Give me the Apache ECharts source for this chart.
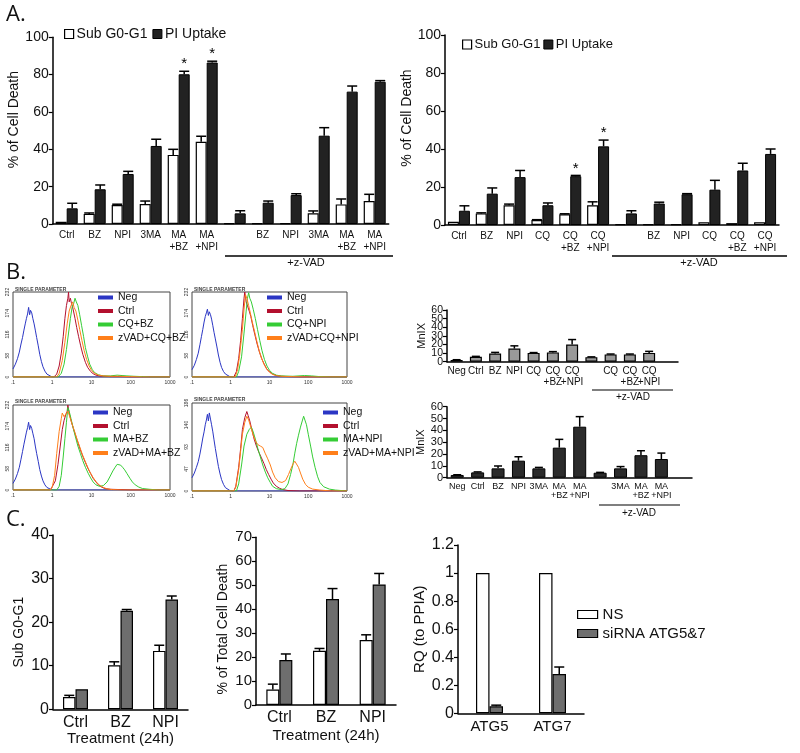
<!DOCTYPE html>
<html><head><meta charset="utf-8">
<script src="https://cdn.jsdelivr.net/npm/echarts@6/dist/echarts.min.js"></script>
<style>html,body{margin:0;padding:0;background:#fff}#main{width:800px;height:753px}</style>
</head><body><div id="main"></div>
<script>
const FF = '"Liberation Sans", Arial, sans-serif';

// ---------- Panel A (left) ----------
const aLeftCats = ['Ctrl','BZ','NPI','3MA','MA\n+BZ','MA\n+NPI','','BZ','NPI','3MA','MA\n+BZ','MA\n+NPI'];
const aLeftSub = [1.2, 5.4, 10.2, 10.7, 37, 44, 0.4, 0.4, 0.5, 5.7, 10.5, 12.3];
const aLeftSubErr = [1.2, 5.9, 10.6, 12.3, 40, 47, 0.4, 0.4, 0.5, 7, 13.4, 15.9];
const aLeftPI = [8.4, 18.6, 26.8, 41.8, 80.2, 86.5, 5.7, 11.4, 15.5, 47.3, 70.9, 76.2];
const aLeftPIErr = [11.1, 20.9, 28.2, 45.4, 81.8, 87.2, 7.1, 12.3, 16.2, 51.6, 73.9, 76.8];
const aLeftStar = [0,0,0,0,1,1,0,0,0,0,0,0];

// ---------- Panel A (right) ----------
const aRightCats = ['Ctrl','BZ','NPI','CQ','CQ\n+BZ','CQ\n+NPI','','BZ','NPI','CQ','CQ\n+BZ','CQ\n+NPI'];
const aRightSub = [1.7, 6.1, 10.4, 2.6, 5.6, 10.4, 0.4, 0.4, 0.5, 1.5, 1, 1.5];
const aRightSubErr = [1.7, 6.4, 11, 2.8, 5.9, 12.2, 0.4, 0.4, 0.5, 1.5, 1, 1.5];
const aRightPI = [7.5, 16.5, 25.2, 10.4, 25.7, 41.4, 6.1, 11.3, 16.2, 18.6, 28.7, 37.4];
const aRightPIErr = [10.1, 19.5, 28.7, 11.6, 26.1, 44.7, 7.5, 12, 16.5, 23.5, 32.5, 40];
const aRightStar = [0,0,0,0,1,1,0,0,0,0,0,0];

// ---------- Panel B flow histograms (x: fluorescence, y: count) ----------
const flowXTicks = ['.1','1','10','100','1000'];
const flowLegend1 = ['Neg','Ctrl','CQ+BZ','zVAD+CQ+BZ'];
const flowLegend2 = ['Neg','Ctrl','CQ+NPI','zVAD+CQ+NPI'];
const flowLegend3 = ['Neg','Ctrl','MA+BZ','zVAD+MA+BZ'];
const flowLegend4 = ['Neg','Ctrl','MA+NPI','zVAD+MA+NPI'];
const flowMax = [232, 232, 232, 186];

const neg1 = [[0.1,22],[0.115,35],[0.13,50],[0.145,68],[0.16,90],[0.175,108],[0.19,128],[0.205,145],[0.22,160],[0.235,172],[0.25,190],[0.265,170],[0.28,182],[0.3,175],[0.32,160],[0.345,145],[0.37,128],[0.4,108],[0.44,85],[0.48,62],[0.53,42],[0.58,28],[0.65,16],[0.73,8],[0.82,4],[0.95,1],[1.1,0],[1000,0]];
const ctrl1 = [[0.1,0],[1.1,0],[1.3,8],[1.5,30],[1.7,65],[1.9,110],[2.1,160],[2.3,195],[2.5,215],[2.6,232],[2.7,205],[2.9,215],[3.1,200],[3.4,185],[3.8,160],[4.2,135],[4.7,110],[5.3,85],[6,62],[7,40],[8,26],[9.5,15],[11,9],[13,5],[16,3],[22,2],[30,1],[50,1],[100,0],[1000,0]];
const trt1 = [[0.1,0],[1.4,0],[1.7,10],[2,35],[2.3,75],[2.6,120],[2.9,160],[3.2,190],[3.5,200],[3.8,215],[4.1,205],[4.5,195],[5,170],[5.6,140],[6.3,110],[7,80],[8,55],[9,35],[10.5,20],[12,12],[15,6],[20,3],[30,3],[45,5],[60,4],[80,3],[120,2],[200,1],[300,0],[1000,0]];
const zvad1 = [[0.1,0],[1.3,0],[1.5,10],[1.8,45],[2.1,95],[2.4,145],[2.7,180],[3,195],[3.3,205],[3.6,190],[4,180],[4.5,155],[5,130],[5.7,100],[6.5,72],[7.5,48],[8.7,30],[10,18],[12,10],[15,5],[20,3],[30,2],[50,2],[100,1],[200,0],[1000,0]];

const neg2 = [[0.1,20],[0.115,32],[0.13,48],[0.145,65],[0.16,88],[0.175,110],[0.19,130],[0.205,150],[0.22,165],[0.235,175],[0.25,185],[0.265,168],[0.28,178],[0.3,170],[0.32,158],[0.345,140],[0.37,122],[0.4,104],[0.44,82],[0.48,60],[0.53,40],[0.58,26],[0.65,15],[0.73,8],[0.82,3],[0.95,1],[1.1,0],[1000,0]];
const ctrl2 = [[0.1,0],[1.2,0],[1.4,15],[1.6,50],[1.8,100],[2,160],[2.2,215],[2.3,232],[2.5,205],[2.7,200],[3,180],[3.3,165],[3.7,140],[4.2,115],[4.8,90],[5.5,68],[6.3,50],[7.3,35],[8.5,22],[10,14],[12,8],[15,4],[20,2],[30,1],[60,0],[1000,0]];
const trt2 = [[0.1,0],[1.4,0],[1.6,15],[1.9,55],[2.2,120],[2.5,180],[2.7,215],[2.9,230],[3.1,215],[3.4,205],[3.8,185],[4.3,160],[4.9,130],[5.6,100],[6.4,72],[7.4,48],[8.6,30],[10,18],[12,10],[15,5],[20,3],[40,2],[80,4],[120,3],[200,1],[400,0],[1000,0]];
const zvad2 = [[0.1,0],[1.3,0],[1.5,20],[1.7,60],[2,130],[2.2,185],[2.4,225],[2.6,215],[2.9,195],[3.2,175],[3.6,150],[4.1,125],[4.7,98],[5.4,72],[6.2,52],[7.2,35],[8.4,22],[10,13],[12,7],[15,4],[20,2],[40,1],[100,0],[1000,0]];

const neg3 = [[0.1,18],[0.115,30],[0.13,45],[0.145,62],[0.16,84],[0.175,105],[0.19,125],[0.205,142],[0.22,158],[0.235,170],[0.25,185],[0.265,165],[0.28,176],[0.3,168],[0.32,155],[0.345,140],[0.37,120],[0.4,100],[0.44,78],[0.48,56],[0.53,38],[0.58,25],[0.65,14],[0.73,7],[0.82,3],[0.95,1],[1.1,0],[1000,0]];
const ctrl3 = [[0.1,0],[0.9,0],[1,5],[1.2,25],[1.4,70],[1.6,120],[1.8,165],[2,190],[2.2,205],[2.4,215],[2.5,232],[2.7,210],[3,190],[3.4,170],[3.9,150],[4.5,130],[5.2,110],[6,92],[7,75],[8.2,58],[9.5,45],[11,32],[13,22],[15,14],[18,8],[22,4],[30,2],[60,1],[100,0],[1000,0]];
const trt3 = [[0.1,0],[1.3,0],[1.5,10],[1.7,40],[1.9,90],[2.1,140],[2.3,185],[2.5,225],[2.7,215],[3,195],[3.4,170],[3.9,145],[4.5,120],[5.2,100],[6,80],[7,62],[8.2,46],[9.5,33],[11,22],[13,14],[16,10],[20,12],[25,22],[30,38],[35,52],[40,62],[45,70],[50,75],[55,68],[62,62],[70,55],[80,45],[95,32],[110,22],[130,14],[160,8],[200,4],[300,2],[500,0],[1000,0]];
const zvad3 = [[0.1,0],[0.9,0],[1,8],[1.15,40],[1.3,100],[1.5,160],[1.7,195],[1.8,210],[2,200],[2.2,205],[2.5,215],[2.8,200],[3.2,180],[3.7,160],[4.3,138],[5,118],[5.8,98],[6.8,80],[8,62],[9.3,47],[11,34],[13,23],[16,13],[20,7],[25,3],[35,1],[60,0],[1000,0]];

const neg4 = [[0.1,28],[0.115,38],[0.13,50],[0.145,62],[0.16,78],[0.175,95],[0.19,112],[0.205,125],[0.22,140],[0.235,150],[0.25,162],[0.265,148],[0.28,165],[0.3,152],[0.32,140],[0.345,125],[0.37,108],[0.4,90],[0.44,70],[0.48,52],[0.53,36],[0.58,24],[0.65,14],[0.73,7],[0.82,3],[0.95,1],[1.1,0],[1000,0]];
const ctrl4 = [[0.1,0],[1.2,0],[1.35,10],[1.6,50],[1.8,90],[2,130],[2.3,155],[2.6,168],[2.8,160],[3.1,148],[3.5,130],[4,110],[4.6,95],[5.3,82],[6.2,70],[7.2,58],[8.3,45],[9.5,35],[11,25],[12.5,17],[15,10],[18,6],[22,3],[30,1],[60,0],[1000,0]];
const trt4 = [[0.1,0],[1.4,0],[1.6,15],[1.9,55],[2.2,95],[2.6,120],[3,130],[3.4,135],[3.8,125],[4.3,110],[5,90],[5.8,72],[6.7,55],[7.8,40],[9,28],[10.5,18],[12,10],[15,5],[20,3],[25,5],[30,15],[35,35],[40,55],[45,80],[50,100],[56,118],[63,135],[70,148],[76,158],[82,150],[90,140],[100,120],[115,95],[130,72],[150,50],[175,30],[200,18],[250,9],[350,4],[500,2],[1000,0]];
const zvad4 = [[0.1,0],[1.2,0],[1.35,8],[1.6,45],[1.8,85],[2,120],[2.3,145],[2.6,158],[2.9,150],[3.3,135],[3.8,118],[4.4,105],[5,98],[5.8,95],[6.7,92],[7.7,80],[9,68],[10.5,55],[12,40],[14,28],[17,20],[21,18],[26,22],[31,35],[36,48],[41,58],[45,63],[50,60],[56,50],[63,38],[72,25],[85,14],[100,8],[130,4],[200,2],[400,0],[1000,0]];

// ---------- Panel B MnIX bars ----------
const bCqCats = ['Neg','Ctrl','BZ','NPI','CQ','CQ\n+BZ','CQ\n+NPI','','CQ','CQ\n+BZ','CQ\n+NPI'];
const bCqVals = [2, 5.8, 9.4, 15.2, 10.2, 10.8, 19.9, 5.3, 8.5, 8.5, 10.2];
const bCqErr  = [2.3, 6.2, 10.8, 18.4, 10.6, 11.7, 25.7, 5.6, 8.9, 8.9, 12];
const bMaCats = ['Neg','Ctrl','BZ','NPI','3MA','MA\n+BZ','MA\n+NPI','','3MA','MA\n+BZ','MA\n+NPI'];
const bMaVals = [2.3, 4.5, 7.9, 14.4, 7.9, 25.4, 43.1, 4.2, 7.9, 19, 15.8];
const bMaErr  = [2.5, 4.9, 9.9, 17.7, 8.7, 32.4, 51.6, 4.5, 9.4, 22.8, 20.8];
const bTicks = [0, 10, 20, 30, 40, 50, 60];
const bTicksEven = [0, 20, 40, 60];
const bTicksOdd = [10, 30, 50];

// ---------- Panel C ----------
const cCats = ['Ctrl','BZ','NPI'];
const c1NS = [2.8, 10.1, 13.4];
const c1NSErr = [3.2, 10.9, 14.7];
const c1Si = [4.6, 22.6, 25.2];
const c1SiErr = [4.6, 22.9, 26];
const c2NS = [6.5, 22.6, 27.1];
const c2NSErr = [8.7, 23.6, 29.3];
const c2Si = [18.8, 44.2, 50.3];
const c2SiErr = [21.3, 48.6, 54.9];
const c3Cats = ['ATG5','ATG7'];
const c3NS = [1, 1];
const c3Si = [0.05, 0.28];
const c3SiErr = [0.058, 0.33];

// ---------- helpers ----------
function errSeries(gi, vals, errs, offset, capW, stars) {
  return {
    type: 'custom', xAxisIndex: gi, yAxisIndex: gi, z: 6, silent: true,
    data: vals.map((v, i) => [i, v, errs[i], stars ? stars[i] : 0]),
    renderItem(params, api) {
      const i = api.value(0), v = api.value(1), e = api.value(2), s = api.value(3);
      const p = api.coord([i, v]);
      const t = api.coord([i, e]);
      const x = p[0] + offset;
      const ch = [];
      if (e > v + 1e-9) {
        ch.push({type: 'line', shape: {x1: x, y1: p[1], x2: x, y2: t[1]}, style: {stroke: '#000', lineWidth: 1.5}});
        ch.push({type: 'line', shape: {x1: x - capW / 2, y1: t[1], x2: x + capW / 2, y2: t[1]}, style: {stroke: '#000', lineWidth: 1.5}});
      }
      if (s) ch.push({type: 'text', style: {text: '*', x: x, y: t[1] - 7, textAlign: 'center', textVerticalAlign: 'middle', fontSize: 15, fontFamily: FF, fill: '#000'}});
      return {type: 'group', children: ch};
    }
  };
}
function bar(name, gi, data, color, w, bw) {
  return {type: 'bar', name, xAxisIndex: gi, yAxisIndex: gi, data, barWidth: w, barGap: '0%',
    itemStyle: {color, borderColor: '#000', borderWidth: bw}, emphasis: {disabled: true}, z: 3};
}
function flow(name, gi, pts, color) {
  return {type: 'line', name, xAxisIndex: gi, yAxisIndex: gi, data: pts, showSymbol: false, symbol: 'none',
    lineStyle: {color, width: 1}, itemStyle: {color}, emphasis: {disabled: true}, z: 3};
}
function catAxis(gi, cats, fs, lh, margin) {
  return {type: 'category', gridIndex: gi, data: cats,
    axisLine: {show: true, lineStyle: {color: '#000', width: 1.5}}, axisTick: {show: false},
    axisLabel: {interval: 0, fontSize: fs, lineHeight: lh, margin, color: '#111', fontFamily: FF}};
}
function valAxis(gi, max, interval, fs, name, nfs, gap, pad, lh) {
  return {type: 'value', gridIndex: gi, min: 0, max, interval,
    axisLine: {show: true, lineStyle: {color: '#000', width: 1.5}},
    axisTick: {show: true, length: 4, lineStyle: {color: '#000', width: 1.2}},
    splitLine: {show: false},
    axisLabel: {fontSize: fs, lineHeight: lh || fs, color: '#111', fontFamily: FF, margin: 4,
      showMinLabel: true, showMaxLabel: true, hideOverlap: false,
      formatter: v => String(Math.round(v * 10) / 10)},
    name, nameLocation: 'middle', nameGap: gap, nameRotate: 90,
    nameTextStyle: {fontSize: nfs, color: '#111', fontFamily: FF, padding: pad || [0, 0, 0, 0]}};
}
function flowX(gi) {
  return {type: 'log', gridIndex: gi, logBase: 10, min: 0.1, max: 1000,
    axisLine: {show: false}, axisTick: {show: false}, splitLine: {show: false},
    axisLabel: {fontSize: 5, margin: 3, color: '#333', fontFamily: FF, showMinLabel: true, showMaxLabel: true,
      formatter: v => v < 0.5 ? flowXTicks[0] : flowXTicks[Math.round(Math.log10(v)) + 1]}};
}
function flowY(gi, max) {
  return {type: 'value', gridIndex: gi, min: 0, max, interval: max / 4,
    axisLine: {show: false}, axisTick: {show: false}, splitLine: {show: false},
    axisLabel: {fontSize: 5, rotate: 90, margin: 3, color: '#333', fontFamily: FF, showMinLabel: true, showMaxLabel: true,
      formatter: v => String(Math.round(v))}};
}
function flowLegend(names, left, top) {
  return {data: names, orient: 'vertical', left, top, padding: 0, itemGap: 2.5, itemWidth: 15, itemHeight: 4,
    icon: 'rect', selectedMode: false, textStyle: {fontSize: 10.5, lineHeight: 11, color: '#111', fontFamily: FF}};
}
const fBox = {show: true, borderColor: '#444', borderWidth: 1, backgroundColor: '#fff'};
const C_BLUE = '#2b36c4', C_RED = '#b3102e', C_GREEN = '#35cc35', C_ORANGE = '#ff7f1a';
const subLeg = {name: 'Sub G0-G1', itemStyle: {color: '#fff', borderColor: '#000', borderWidth: 1.2}};
const piLeg = {name: 'PI Uptake', itemStyle: {color: '#222', borderColor: '#000', borderWidth: 1}};

// B1 y-axis: main axis shows even labels and all ticks; a twin axis shows odd labels
const b1Axis = valAxis(6, 60, 10, 10.5, 'MnIX', 11, 13, null, 9);
b1Axis.axisLabel.customValues = bTicksEven;
b1Axis.axisTick.customValues = bTicks;
const b1AxisOdd = {type: 'value', gridIndex: 6, min: 0, max: 60, position: 'left',
  axisLine: {show: false}, axisTick: {show: false}, splitLine: {show: false},
  axisLabel: {customValues: bTicksOdd, fontSize: 10.5, lineHeight: 9, color: '#111', fontFamily: FF, margin: 4,
    showMinLabel: true, showMaxLabel: true}};

const option = {
  animation: false,
  backgroundColor: '#fff',
  textStyle: {fontFamily: FF},
  grid: [
    {left: 52.7, top: 37.3, width: 336, height: 186.7},
    {left: 445, top: 35, width: 334, height: 190},
    Object.assign({left: 13, top: 292, width: 157, height: 85}, fBox),
    Object.assign({left: 192, top: 292, width: 155, height: 85}, fBox),
    Object.assign({left: 13, top: 405, width: 157, height: 85}, fBox),
    Object.assign({left: 192, top: 403, width: 155, height: 88}, fBox),
    {left: 447, top: 310, width: 231, height: 51.7},
    {left: 447, top: 406.7, width: 245, height: 71},
    {left: 53, top: 535, width: 135, height: 174.3},
    {left: 256, top: 537.3, width: 140, height: 167.7},
    {left: 458, top: 545, width: 126, height: 168.3}
  ],
  xAxis: [
    catAxis(0, aLeftCats, 10, 12, 5),
    catAxis(1, aRightCats, 10, 12, 5),
    flowX(2), flowX(3), flowX(4), flowX(5),
    catAxis(6, bCqCats.concat(['']), 10, 11, 4),
    catAxis(7, bMaCats.concat(['']), 9, 9, 4),
    Object.assign(catAxis(8, cCats, 16, 16, 5), {name: 'Treatment (24h)', nameLocation: 'middle', nameGap: 21, nameTextStyle: {fontSize: 15, color: '#111', fontFamily: FF}}),
    Object.assign(catAxis(9, cCats, 16, 16, 5), {name: 'Treatment (24h)', nameLocation: 'middle', nameGap: 23, nameTextStyle: {fontSize: 15, color: '#111', fontFamily: FF}}),
    catAxis(10, c3Cats, 15, 15, 6)
  ],
  yAxis: [
    valAxis(0, 100, 20, 14, '% of Cell Death', 14, 30, [0, 0, 0, 22]),
    valAxis(1, 100, 20, 14, '% of Cell Death', 14, 28, [0, 0, 0, 24]),
    flowY(2, flowMax[0]), flowY(3, flowMax[1]), flowY(4, flowMax[2]), flowY(5, flowMax[3]),
    b1Axis,
    valAxis(7, 60, 10, 11, 'MnIX', 11, 13, null, 10),
    valAxis(8, 40, 10, 16, 'Sub G0-G1', 14, 27, [0, 20, 0, 0]),
    valAxis(9, 70, 10, 15, '% of Total Cell Death', 14, 26, [0, 16, 0, 0]),
    valAxis(10, 1.2, 0.2, 16, 'RQ (to PPIA)', 15, 30, null),
    b1AxisOdd
  ],
  legend: [
    {data: [subLeg, piLeg], left: 64, top: 27, padding: 0, itemGap: 5, itemWidth: 9, itemHeight: 9, icon: 'rect', selectedMode: false,
      textStyle: {fontSize: 14, color: '#111', fontFamily: FF, padding: [0, 0, 0, -2]}},
    {data: [subLeg, piLeg], left: 462, top: 38, padding: 0, itemGap: 3, itemWidth: 9, itemHeight: 9, icon: 'rect', selectedMode: false,
      textStyle: {fontSize: 13, color: '#111', fontFamily: FF, padding: [0, 0, 0, -2]}},
    flowLegend(flowLegend1, 98, 292),
    flowLegend(flowLegend2, 267, 292),
    flowLegend(flowLegend3, 93, 407),
    flowLegend(flowLegend4, 323, 407),
    {data: [{name: 'NS', itemStyle: {color: '#fff', borderColor: '#000', borderWidth: 1.2}},
            {name: 'siRNA ATG5&7', itemStyle: {color: '#6e6e6e', borderColor: '#000', borderWidth: 1.2}}],
      orient: 'vertical', left: 577, top: 607, padding: 0, itemGap: 4, itemWidth: 20, itemHeight: 8, icon: 'rect', selectedMode: false,
      textStyle: {fontSize: 15, color: '#111', fontFamily: FF}}
  ],
  series: [
    // A left
    bar('Sub G0-G1', 0, aLeftSub, '#fff', 11, 1.2),
    bar('PI Uptake', 0, aLeftPI, '#222', 11, 1),
    errSeries(0, aLeftSub, aLeftSubErr, -5.5, 10, null),
    errSeries(0, aLeftPI, aLeftPIErr, 5.5, 10, aLeftStar),
    // A right
    bar('Sub G0-G1', 1, aRightSub, '#fff', 11, 1.2),
    bar('PI Uptake', 1, aRightPI, '#222', 11, 1),
    errSeries(1, aRightSub, aRightSubErr, -5.5, 10, null),
    errSeries(1, aRightPI, aRightPIErr, 5.5, 10, aRightStar),
    // flows
    flow('Neg', 2, neg1, C_BLUE), flow('Ctrl', 2, ctrl1, C_RED), flow('CQ+BZ', 2, trt1, C_GREEN), flow('zVAD+CQ+BZ', 2, zvad1, C_ORANGE),
    flow('Neg', 3, neg2, C_BLUE), flow('Ctrl', 3, ctrl2, C_RED), flow('CQ+NPI', 3, trt2, C_GREEN), flow('zVAD+CQ+NPI', 3, zvad2, C_ORANGE),
    flow('Neg', 4, neg3, C_BLUE), flow('Ctrl', 4, ctrl3, C_RED), flow('MA+BZ', 4, trt3, C_GREEN), flow('zVAD+MA+BZ', 4, zvad3, C_ORANGE),
    flow('Neg', 5, neg4, C_BLUE), flow('Ctrl', 5, ctrl4, C_RED), flow('MA+NPI', 5, trt4, C_GREEN), flow('zVAD+MA+NPI', 5, zvad4, C_ORANGE),
    // B bars
    bar('MnIX CQ', 6, bCqVals, '#999', 12, 1.2),
    errSeries(6, bCqVals, bCqErr, 0, 8, null),
    bar('MnIX MA', 7, bMaVals, '#2b2b2b', 13, 1),
    errSeries(7, bMaVals, bMaErr, 0, 8, null),
    // C1
    bar('NS', 8, c1NS, '#fff', 12.5, 1.2),
    bar('siRNA ATG5&7', 8, c1Si, '#6e6e6e', 12.5, 1.2),
    errSeries(8, c1NS, c1NSErr, -6.25, 10, null),
    errSeries(8, c1Si, c1SiErr, 6.25, 10, null),
    // C2
    bar('NS', 9, c2NS, '#fff', 13, 1.2),
    bar('siRNA ATG5&7', 9, c2Si, '#6e6e6e', 13, 1.2),
    errSeries(9, c2NS, c2NSErr, -6.5, 10, null),
    errSeries(9, c2Si, c2SiErr, 6.5, 10, null),
    // C3
    bar('NS', 10, c3NS, '#fff', 13.5, 1.2),
    bar('siRNA ATG5&7', 10, c3Si, '#6e6e6e', 13.5, 1.2),
    errSeries(10, c3Si, c3SiErr, 6.75, 10, null)
  ],
  graphic: [
    {type: 'text', left: 6, top: 4, style: {text: 'A.', fontSize: 22, fontFamily: '"Open Sans", sans-serif', fill: '#111'}},
    {type: 'text', left: 6, top: 262, style: {text: 'B.', fontSize: 22, fontFamily: '"Open Sans", sans-serif', fill: '#111'}},
    {type: 'text', left: 6, top: 509, style: {text: 'C.', fontSize: 22, fontFamily: '"Open Sans", sans-serif', fill: '#111'}},
    {type: 'line', shape: {x1: 225, y1: 256, x2: 393, y2: 256}, style: {stroke: '#000', lineWidth: 1.5}},
    {type: 'text', x: 306, y: 263, style: {text: '+z-VAD', fontSize: 11, fontFamily: FF, fill: '#111', align: 'center', verticalAlign: 'middle'}},
    {type: 'line', shape: {x1: 612, y1: 256, x2: 787, y2: 256}, style: {stroke: '#000', lineWidth: 1.5}},
    {type: 'text', x: 699, y: 263, style: {text: '+z-VAD', fontSize: 11, fontFamily: FF, fill: '#111', align: 'center', verticalAlign: 'middle'}},
    {type: 'line', shape: {x1: 592, y1: 390, x2: 673, y2: 390}, style: {stroke: '#000', lineWidth: 1.2}},
    {type: 'text', x: 633, y: 397, style: {text: '+z-VAD', fontSize: 10, fontFamily: FF, fill: '#111', align: 'center', verticalAlign: 'middle'}},
    {type: 'line', shape: {x1: 599, y1: 505, x2: 680, y2: 505}, style: {stroke: '#000', lineWidth: 1.2}},
    {type: 'text', x: 639, y: 513, style: {text: '+z-VAD', fontSize: 10, fontFamily: FF, fill: '#111', align: 'center', verticalAlign: 'middle'}},
    {type: 'text', left: 15, top: 287, style: {text: 'SINGLE PARAMETER', fontSize: 5, fontWeight: 'bold', fontFamily: FF, fill: '#444'}},
    {type: 'text', left: 194, top: 287, style: {text: 'SINGLE PARAMETER', fontSize: 5, fontWeight: 'bold', fontFamily: FF, fill: '#444'}},
    {type: 'text', left: 15, top: 399, style: {text: 'SINGLE PARAMETER', fontSize: 5, fontWeight: 'bold', fontFamily: FF, fill: '#444'}},
    {type: 'text', left: 194, top: 397, style: {text: 'SINGLE PARAMETER', fontSize: 5, fontWeight: 'bold', fontFamily: FF, fill: '#444'}}
  ]
};
const chart = echarts.init(document.getElementById('main'), null, {renderer: 'canvas'});
chart.setOption(option);
</script></body></html>
